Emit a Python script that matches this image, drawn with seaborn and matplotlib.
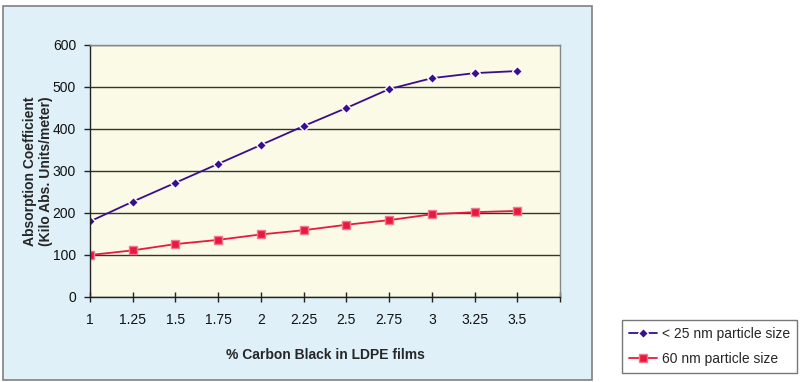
import matplotlib
matplotlib.use("Agg")
import matplotlib.pyplot as plt
from matplotlib.patches import Rectangle
import pandas as pd
import seaborn as sns

# data
carbon_pct = [1, 1.25, 1.5, 1.75, 2, 2.25, 2.5, 2.75, 3, 3.25, 3.5]
small_particles = [180, 227, 272, 317, 362, 407, 450, 495, 521, 533, 538]
large_particles = [100, 111, 126, 136, 149, 159, 172, 183, 197, 202, 205]
series_names = ["< 25 nm particle size", "60 nm particle size"]
x_ticks = [1, 1.25, 1.5, 1.75, 2, 2.25, 2.5, 2.75, 3, 3.25, 3.5, 3.75]
x_ticklabels = ["1", "1.25", "1.5", "1.75", "2", "2.25", "2.5", "2.75", "3", "3.25", "3.5", ""]
y_ticks = [0, 100, 200, 300, 400, 500, 600]

df = pd.DataFrame({
    "pct": carbon_pct * 2,
    "value": small_particles + large_particles,
    "series": [series_names[0]] * len(carbon_pct) + [series_names[1]] * len(carbon_pct),
})

sns.set_theme(style="white")
plt.rcParams["font.family"] = ["Liberation Sans", "DejaVu Sans"]

fig = plt.figure(figsize=(8, 3.82), dpi=100)
fig.patch.set_facecolor("white")

# light blue chart panel, behind the axes
panel = Rectangle((3 / 800, 2 / 382), 589 / 800, 374 / 382,
                  transform=fig.transFigure, facecolor="#dff0f8",
                  edgecolor="#808080", linewidth=1.2, zorder=-10)
fig.add_artist(panel)

ax = fig.add_axes([90 / 800, 85 / 382, 470 / 800, 252 / 382])
ax.set_facecolor("#fafae6")

colors = {series_names[0]: "#3a0d8c", series_names[1]: "#e8193c"}
markers = {series_names[0]: "D", series_names[1]: "s"}
sns.lineplot(data=df, x="pct", y="value", hue="series", style="series",
             palette=colors, markers=markers, dashes=False, ax=ax,
             linewidth=1.3, markersize=5.5, markeredgewidth=1)
for line in ax.lines:
    if line.get_color() == colors[series_names[1]]:
        line.set_markeredgecolor("#f07890")

ax.set_xlim(1, 3.75)
ax.set_ylim(0, 600)
ax.set_xticks(x_ticks)
ax.set_xticklabels(x_ticklabels)
ax.set_yticks(y_ticks)
ax.yaxis.grid(True, color="#333333", linewidth=1)
ax.set_axisbelow(True)
ax.tick_params(axis="both", labelsize=10, labelcolor="#111111", color="#222222",
               length=4, width=1, direction="out", pad=6, bottom=True, left=True)
ax.tick_params(axis="x", direction="inout", length=7, pad=8)
for side in ["top", "right"]:
    ax.spines[side].set_color("#888888")
    ax.spines[side].set_linewidth(1)
for side in ["left", "bottom"]:
    ax.spines[side].set_color("#222222")
    ax.spines[side].set_linewidth(1)

ax.set_xlabel("% Carbon Black in LDPE films", fontsize=10, fontweight="bold", labelpad=15)
ax.set_ylabel("Absorption Coefficient\n(Kilo Abs. Units/meter)", fontsize=10,
              fontweight="bold", labelpad=0)

leg = ax.legend(loc="upper left", bbox_to_anchor=(622 / 800, 1 - 320 / 382),
                bbox_transform=fig.transFigure, frameon=True, fancybox=False,
                fontsize=10, handlelength=2.0, handletextpad=0.4, borderpad=0.5,
                labelspacing=0.8, borderaxespad=0)
leg.get_frame().set_edgecolor("#555555")
leg.get_frame().set_linewidth(1)
leg.set_title(None)

fig.savefig("out.png", dpi=100)
